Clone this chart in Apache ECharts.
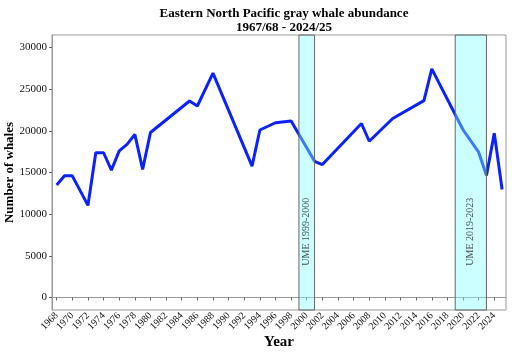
<!DOCTYPE html>
<html>
<head>
<meta charset="utf-8">
<script src="https://cdn.jsdelivr.net/npm/echarts@6/dist/echarts.min.js"></script>
<style>
html, body { margin: 0; padding: 0; background: #fff; }
#chart { width: 512px; height: 353px; }
</style>
</head>
<body>
<div id="chart"></div>
<script>
// survey year (end of season) and abundance
var years = [1968, 1969, 1970, 1972, 1973, 1974, 1975, 1976, 1977, 1978, 1979, 1980,
	1985, 1986, 1988, 1993, 1994, 1996, 1998, 2001, 2002, 2007, 2008, 2011,
	2015, 2016, 2020, 2022, 2023, 2024, 2025];
var whales = [13500, 14600, 14600, 11050, 17370, 17370, 15290, 17600, 18380, 19570, 15370, 19800,
	23580, 22980, 26920, 15760, 20100, 20970, 21180, 16340, 15950, 20880, 18750, 21480,
	23620, 27440, 20130, 17440, 14640, 19720, 12960];

// unusual mortality events
var umeStart = [1999, 2019];
var umeEnd = [2001, 2023];
var umeLabels = ['UME 1999-2000', 'UME 2019-2023'];
var umeLabelY = 7900;

var yTicks = [0, 5000, 10000, 15000, 20000, 25000, 30000];
var xTicks = [];
for (var t = 1968; t <= 2024; t += 2) xTicks.push(t);

var serif = 'Liberation Serif';

var chart = echarts.init(document.getElementById('chart'));

var lineData = [];
for (var i = 0; i < years.length; i++) lineData.push([years[i], whales[i]]);

var bands = [];
var labelPts = [];
for (var j = 0; j < umeStart.length; j++) {
	bands.push([{ xAxis: umeStart[j] }, { xAxis: umeEnd[j] }]);
	labelPts.push({ value: [(umeStart[j] + umeEnd[j]) / 2, umeLabelY], name: umeLabels[j] });
}

var option = {
	animation: false,
	title: {
		text: 'Eastern North Pacific gray whale abundance\n1967/68 - 2024/25',
		left: 279,
		top: 2,
		textAlign: 'center',
		textStyle: {
			fontFamily: serif,
			fontWeight: 'bold',
			fontSize: 13,
			lineHeight: 14,
			color: '#000'
		}
	},
	grid: {
		left: 52,
		right: 6,
		top: 35,
		bottom: 43,
		outerBoundsMode: 'none',
		containLabel: false,
		show: true,
		borderColor: '#999',
		borderWidth: 1
	},
	xAxis: {
		type: 'value',
		min: 1967.4,
		max: 2025.5,
		name: 'Year',
		nameLocation: 'middle',
		nameGap: 25,
		nameMoveOverlap: false,
		nameTextStyle: { fontFamily: serif, fontWeight: 'bold', fontSize: 15, color: '#000' },
		splitLine: { show: false },
		axisLine: { show: true, lineStyle: { color: '#999' } },
		axisTick: { show: true, length: 3, customValues: xTicks, lineStyle: { color: '#666' } },
		axisLabel: {
			customValues: xTicks,
			formatter: function (v) { return String(v); },
			rotate: 45,
			margin: 4,
			fontFamily: serif,
			fontSize: 10,
			color: '#111'
		}
	},
	yAxis: {
		type: 'value',
		min: -1500,
		max: 31500,
		name: 'Number of whales',
		nameLocation: 'middle',
		nameGap: 36,
		nameMoveOverlap: false,
		nameTextStyle: { fontFamily: serif, fontWeight: 'bold', fontSize: 13, color: '#000' },
		splitLine: { show: false },
		axisLine: { show: true, lineStyle: { color: '#999' } },
		axisTick: { show: true, length: 3, customValues: yTicks, lineStyle: { color: '#666' } },
		axisLabel: {
			customValues: yTicks,
			formatter: function (v) { return String(v); },
			margin: 5,
			fontFamily: serif,
			fontSize: 11,
			color: '#111'
		}
	},
	series: [
		{
			name: 'abundance',
			type: 'line',
			data: lineData,
			showSymbol: false,
			symbol: 'none',
			z: 2,
			lineStyle: { color: '#0a22ff', width: 3 }
		},
		{
			name: 'ume',
			type: 'line',
			data: [],
			z: 5,
			markArea: {
				silent: true,
				z: 10,
				itemStyle: {
					color: 'rgba(128,255,255,0.4)',
					borderColor: '#666',
					borderWidth: 1
				},
				data: bands
			}
		},
		{
			name: 'umeLabel',
			type: 'scatter',
			data: labelPts,
			symbolSize: 0,
			z: 11,
			label: {
				show: true,
				position: 'inside',
				rotate: 90,
				formatter: '{b}',
				fontFamily: serif,
				fontSize: 10,
				color: '#222'
			}
		}
	]
};

chart.setOption(option);
</script>
</body>
</html>
